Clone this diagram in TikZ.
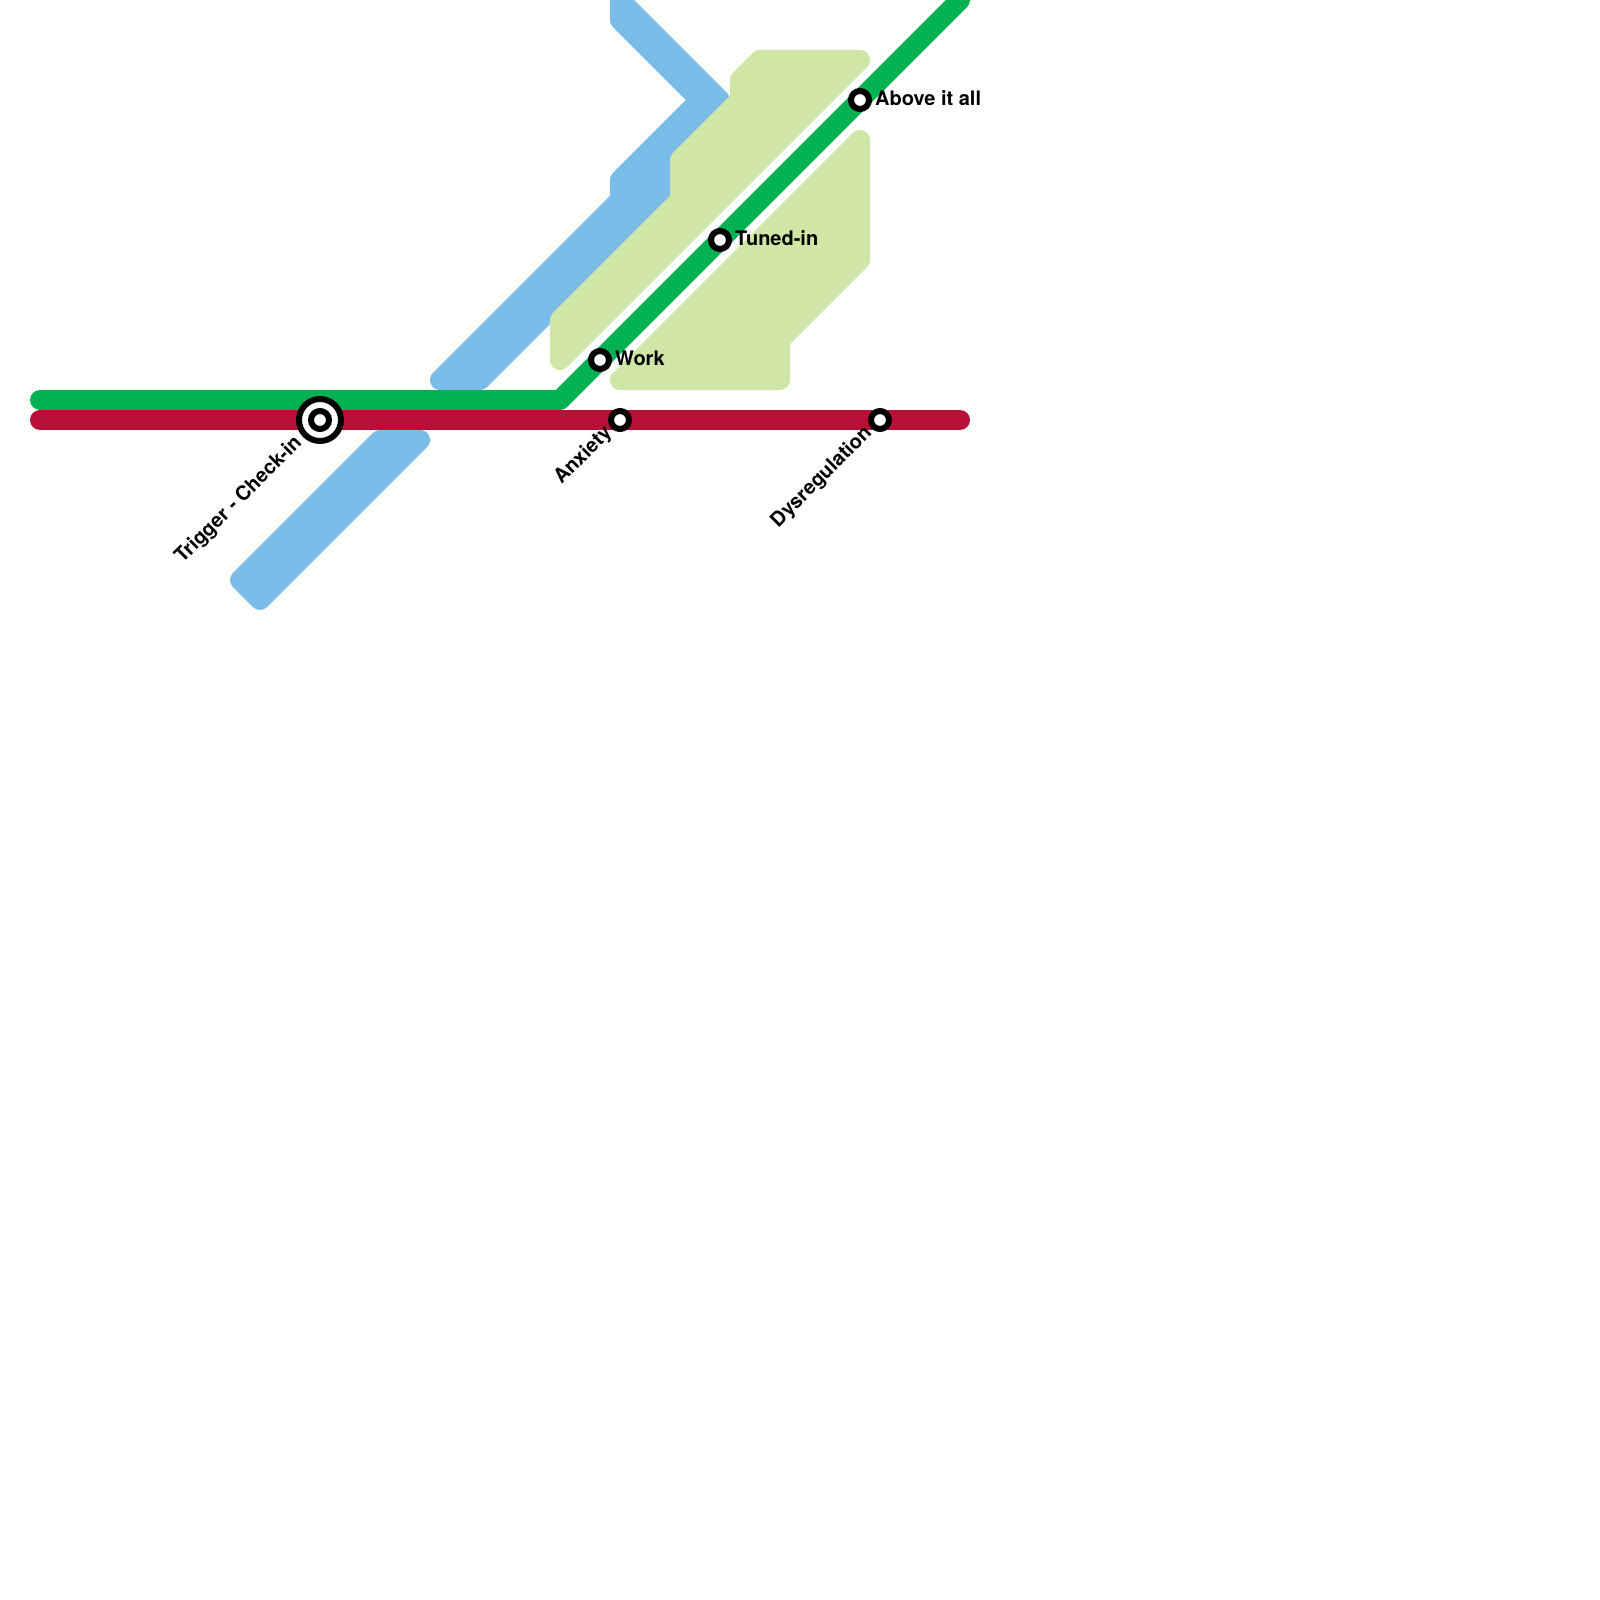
\documentclass[tikz,border=0pt]{standalone}
\usepackage{fontspec}
\setmainfont{TeX Gyre Heros}
\tikzset{
  x=1pt,y=-1pt,
  region/.style={line width=20pt,line join=round,draw=#1,fill=#1},
  metro/.style={line width=20pt,line join=round,line cap=round,draw=#1},
  halt/.style={circle,draw=black,fill=white,line width=6pt,minimum size=18pt,inner sep=0pt},
  hubout/.style={circle,draw=black,fill=white,line width=6pt,minimum size=42pt,inner sep=0pt},
  hubin/.style={circle,draw=black,fill=white,line width=6pt,minimum size=18pt,inner sep=0pt},
  lbl/.style={font=\fontsize{20}{24}\selectfont\bfseries,text=black,inner sep=0pt},
}
\definecolor{cblue}{RGB}{122,189,232}
\definecolor{cpale}{RGB}{208,230,166}
\definecolor{cgreen}{RGB}{0,178,81}
\definecolor{cred}{RGB}{186,15,55}
\begin{document}
\begin{tikzpicture}
\useasboundingbox (0,0) rectangle (1600,1600);
\fill[white] (0,0) rectangle (1600,1600);
\clip (0,0) rectangle (1600,1600);
% regions
\path[region=cblue] (620,0) -- (620,20) -- (700,100) -- (620,180) -- (620,200) -- (440,380) -- (480,380) -- (660,200) -- (660,160) -- (720,100) -- cycle;
\path[region=cblue] (240,580) -- (260,600) -- (420,440) -- (380,440) -- cycle;
\path[region=cpale] (760,60) -- (740,80) -- (740,100) -- (680,160) -- (680,200) -- (560,320) -- (560,360) -- (860,60) -- cycle;
\path[region=cpale] (860,140) -- (860,260) -- (780,340) -- (780,380) -- (620,380) -- cycle;
% lines
\coordinate (gstart) at (40,400);
\coordinate (gbend) at (560,400);
\coordinate (gend) at (960,0);
\coordinate (rstart) at (40,420);
\coordinate (rend) at (960,420);
\draw[metro=cgreen] (gstart) -- (gbend) -- (gend);
\draw[metro=cred] (rstart) -- (rend);
% stations
\node[hubout] (trigout) at (320,420) {};
\node[hubin] (trig) at (320,420) {};
\node[halt] (anx) at (620,420) {};
\node[halt] (dys) at (880,420) {};
\node[halt] (work) at (600,360) {};
\node[halt] (tuned) at (720,240) {};
\node[halt] (above) at (860,100) {};
% labels
\node[lbl,anchor=west] (lwork) at (615,358) {Work};
\node[lbl,anchor=west] (ltuned) at (735,238) {Tuned-in};
\node[lbl,anchor=west] (labove) at (875,98) {Above it all};
\node[lbl,rotate=45,anchor=east] (ltrig) at (299,440) {Trigger - Check-in};
\node[lbl,rotate=45,anchor=east] (lanx) at (609,430) {Anxiety};
\node[lbl,rotate=45,anchor=east] (ldys) at (869,430) {Dysregulation};
\end{tikzpicture}
\end{document}
